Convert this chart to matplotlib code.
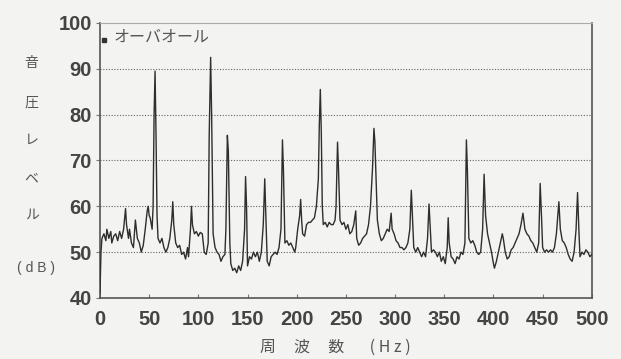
import matplotlib.pyplot as plt

# overall sound pressure spectrum (Hz, dB)
freq = [0, 1, 2, 4, 6, 7, 9, 11, 12, 14, 16, 18, 20, 22, 24, 26, 27, 29, 30, 32,
        34, 36, 38, 40, 42, 44, 46, 48, 49, 50, 51, 53, 54, 55, 56, 57, 58, 59, 61, 63,
        65, 67, 69, 71, 73, 74, 75, 77, 79, 81, 83, 85, 87, 89, 90, 92, 93, 94, 96, 98,
        100, 102, 104, 106, 108, 110, 111, 112.5, 113.5, 115, 117, 119, 121, 123, 125, 127, 128, 129.5, 130.5, 132,
        133, 135, 137, 139, 141, 143, 145, 147, 148, 149, 150, 152, 154, 156, 158, 160, 162, 164, 166, 167.5,
        169, 170, 172, 174, 176, 178, 180, 182, 184, 185.5, 186.5, 188, 190, 192, 194, 196, 198, 199, 201, 203,
        204, 205, 206, 208, 210, 212, 214, 216, 218, 220, 222, 223, 224, 225, 226, 227, 229, 231, 233, 235,
        237, 239, 240, 241.5, 242.5, 244, 246, 248, 250, 252, 254, 256, 258, 260, 261, 263, 265, 267, 269, 271,
        273, 275, 277, 278.5, 279.5, 281, 282, 284, 286, 288, 290, 292, 294, 296, 297, 299, 301, 303, 305, 307,
        309, 311, 313, 315, 316.5, 318, 319, 321, 323, 325, 327, 329, 331, 333, 334.5, 336, 337, 339, 341, 343,
        345, 347, 349, 351, 353, 354, 355, 357, 359, 361, 363, 365, 367, 369, 371, 372.5, 373.5, 375, 377, 379,
        381, 383, 385, 387, 389, 390.5, 392, 394, 396, 398, 400, 401, 403, 405, 407, 409, 410, 412, 414, 416,
        418, 420, 422, 424, 426, 428, 430, 432, 434, 436, 438, 440, 442, 444, 446, 447.5, 449, 450, 452, 454,
        456, 458, 460, 462, 464, 466.5, 468, 470, 472, 474, 476, 478, 480, 482, 484, 485.5, 487, 488, 490, 492,
        494, 496, 498, 500]
level = [41, 50, 53, 54, 52.5, 55, 53, 54.5, 52, 53.5, 54, 52.5, 54.5, 53, 55, 59.5, 56, 53, 55, 52,
         51, 57, 53, 52, 50, 51.5, 55, 59, 60, 58, 57.5, 55, 60, 80, 89.5, 75, 58, 53, 52, 53,
         51, 50, 51, 53, 57, 61, 56, 52, 51, 51.5, 49.5, 50, 48.5, 51, 49, 55, 60, 56, 54, 54.5,
         53.5, 54.3, 54, 50, 49.5, 52, 75, 92.5, 80, 54, 51, 50, 49.5, 48, 49, 49.5, 55, 75.5, 72, 52,
         47.5, 46, 46.5, 45.5, 47, 46, 48, 55, 66.5, 60, 47, 49, 48.5, 50, 49, 50, 48, 50, 56, 66,
         55, 48, 47, 49, 49.5, 50, 49.5, 51, 55, 74.5, 68, 52, 52.5, 51.5, 52, 51, 50, 51, 55, 58,
         61.5, 57, 54, 53.5, 56, 56.5, 56.5, 57, 57.5, 60, 66, 78, 85.5, 76, 60, 56, 56.5, 55.5, 56.5, 56,
         56, 57, 60, 74, 68, 57, 56, 56.5, 55, 56, 54, 54.5, 56, 59, 53, 51.5, 52, 53, 53.5, 54,
         56, 60, 68, 77, 74, 64, 57, 54, 52.5, 53, 54, 55, 54.5, 58.5, 55, 54, 52.5, 52, 51, 51,
         50.5, 51, 52, 55, 63.5, 56, 51, 50, 51, 50, 49, 50, 49, 53, 60.5, 54, 50, 50.5, 50, 49,
         50, 48, 49, 47.5, 51, 57.5, 52, 49, 48.5, 47.5, 49, 48.5, 50, 49.5, 52, 74.5, 68, 53, 52, 52.5,
         51.5, 50, 49.5, 50, 55, 67, 58, 54, 52, 50, 47.5, 46.5, 48, 50, 52, 54, 53, 50, 48.5, 49,
         50.5, 51, 52, 53, 54, 56, 58.5, 55, 54, 53.5, 52.5, 52, 51, 50, 52, 65, 57, 51, 50, 50.5,
         50, 50.5, 50, 51, 54, 61, 55, 52.5, 52, 51, 49.5, 48.5, 48, 50, 55, 63, 54, 49, 50, 49.5,
         50.5, 50, 49, 49.5]

x_ticks = [0, 50, 100, 150, 200, 250, 300, 350, 400, 450, 500]
y_ticks = [40, 50, 60, 70, 80, 90, 100]
grid_levels = [50, 60, 70, 80, 90]
ylabel_chars = ['音', '圧', 'レ', 'ベ', 'ル']

plt.rcParams['font.family'] = ['Noto Sans CJK JP', 'DejaVu Sans']
bg = '#f3f3f1'

fig = plt.figure(figsize=(6.21, 3.59), dpi=100, facecolor=bg)
ax = fig.add_axes([0.161, 0.170, 0.792, 0.766], facecolor=bg)

for g in grid_levels:
    ax.axhline(g, color='#666666', lw=0.8, ls=(0, (1, 1.5)), zorder=1)

ax.plot(freq, level, color='#2e2e2e', lw=1.0, zorder=3)

ax.set_xlim(0, 500)
ax.set_ylim(40, 100)
ax.set_xticks(x_ticks)
ax.set_yticks(y_ticks)
ax.set_xticklabels([str(t) for t in x_ticks], fontfamily='Liberation Sans',
                   fontweight='bold', fontsize=14.5, color='#444444')
ax.set_yticklabels([str(t) for t in y_ticks], fontfamily='Liberation Sans',
                   fontweight='bold', fontsize=14.5, color='#444444')
ax.tick_params(axis='x', direction='in', length=3, color='#777777', pad=9)
ax.tick_params(axis='y', direction='out', length=3, color='#777777', pad=3)
for s in ax.spines.values():
    s.set_color('#555555')
    s.set_linewidth(1.2)
ax.spines['top'].set_color('#aaaaaa')
ax.spines['top'].set_linewidth(0.8)

# legend entry
ax.plot([4], [96.3], marker='s', ms=2.5, color='#333333', clip_on=False)
ax.text(14, 97.0, 'オーバオール', fontsize=11.5, color='#555555', va='center', ha='left')

# stacked vertical y label
ys = [0.825, 0.713, 0.610, 0.504, 0.401]
for ch, yy in zip(ylabel_chars, ys):
    fig.text(0.051, yy, ch, fontsize=10, color='#555555', ha='center', va='center')
fig.text(0.058, 0.253, '( d B )', fontsize=10, color='#555555', ha='center', va='center',
         fontfamily='Liberation Sans')

fig.text(0.54, 0.033, '周     波     数       ( H z )', fontsize=11.5, color='#555555',
         ha='center', va='center')

fig.savefig('out.png', dpi=100, facecolor=bg)
